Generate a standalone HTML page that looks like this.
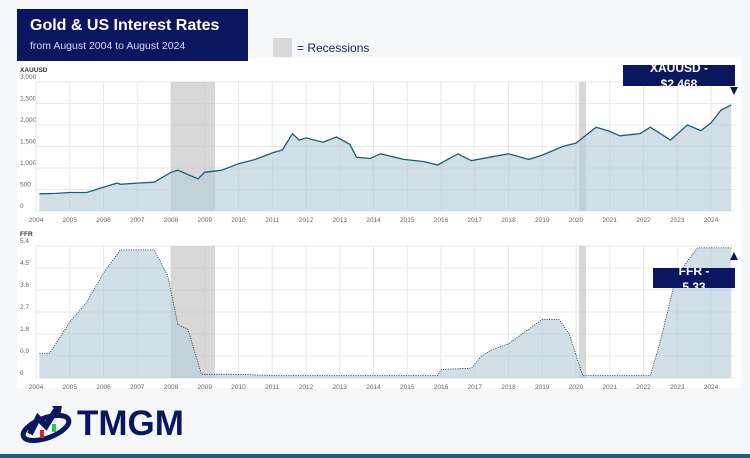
<!DOCTYPE html><html><head><style>
body{margin:0;width:750px;height:458px;background:#f6f7f8;font-family:"Liberation Sans",sans-serif;overflow:hidden;position:relative}
.panel{position:absolute;left:17px;top:58px;width:724px;height:330px;background:#fff}
.title{position:absolute;left:17px;top:9px;width:231px;height:52px;background:#0b1660;color:#fff}
.title .t{position:absolute;left:13px;top:8px;font-size:16px;font-weight:bold}
.title .s{position:absolute;left:13px;top:31px;font-size:10.5px;color:#d8dcee}
.rec{position:absolute;left:273px;top:38px;width:19px;height:19px;background:#d9d9d9}
.rect{position:absolute;left:297px;top:41px;font-size:12px;color:#1a2050}
.lbl{position:absolute;background:#0b1660;color:#fff;font-weight:bold;font-size:12px;text-align:center;line-height:16px;overflow:hidden}
.lbl div{margin-top:-5px}
.logo{position:absolute;left:77px;top:404px;font-size:35px;font-weight:900;color:#0b1660}
.bar{position:absolute;left:0;top:454px;width:750px;height:4px;background:#1b5f80}
</style></head><body>
<div class="panel"></div>
<svg id="s" width="750" height="458" style="position:absolute;left:0;top:0"></svg>
<div class="title"><div class="t">Gold &amp; US Interest Rates</div><div class="s">from August 2004 to August 2024</div></div>
<div class="rec"></div><div class="rect">= Recessions</div>
<div class="lbl" style="left:623px;top:65px;width:112px;height:21px"><div>XAUUSD -<br>$2,468</div></div>
<div class="lbl" style="left:653px;top:268px;width:82px;height:20px"><div>FFR -<br>5.33</div></div>
<div class="logo">TMGM</div>
<svg width="60" height="40" style="position:absolute;left:18px;top:404px"><ellipse cx="28" cy="24" rx="24" ry="10" fill="none" stroke="#0b1660" stroke-width="5" transform="rotate(-20 28 24)"/><path d="M12 30 L20 14 L28 22 L38 6" fill="none" stroke="#0b1660" stroke-width="6"/><path d="M34 2 L44 2 L42 12Z" fill="#0b1660"/><rect x="22" y="26" width="4" height="8" fill="#d22"/><rect x="34" y="20" width="4" height="8" fill="#2c4"/></svg>
<div class="bar"></div>
<script>
const s=document.getElementById('s');let h='';
const X=y=>36+(y-2004)*33.75;
function grid(top,bot,n,labels,ylab){
 for(let i=0;i<=n;i++){let y=top+(bot-top)*i/n;h+=`<line x1="36" x2="735" y1="${y}" y2="${y}" stroke="#e6e8ea"/>`;
 h+=`<text x="20" y="${y-3}" font-size="6.5" fill="#666">${labels[i]}</text>`;}
 for(let yr=2004;yr<=2024;yr++){let x=X(yr);h+=`<line x1="${x}" x2="${x}" y1="${top}" y2="${bot}" stroke="#e6e8ea"/>`;
 h+=`<text x="${x}" y="${bot+11}" font-size="6.5" fill="#666" text-anchor="middle">${yr}</text>`;}
 h+=`<text x="20" y="${top-10}" font-size="6.5" fill="#333" font-weight="bold">${ylab}</text>`;
 h+=`<rect x="171" y="${top}" width="44" height="${bot-top}" fill="#c8c8c8" opacity=".7"/><rect x="579" y="${top}" width="7" height="${bot-top}" fill="#c8c8c8" opacity=".7"/>`;
}
grid(82,211,6,['3,000','2,500','2,000','1,500','1,000','500','0'],'XAUUSD');
grid(246,378,6,['5.4','4.5','3.6','2.7','1.8','0.9','0'],'FFR');
const g=[[2004.1,400],[2004.6,410],[2005,430],[2005.5,430],[2006,550],[2006.4,650],[2006.5,620],[2007,650],[2007.5,670],[2008,900],[2008.2,950],[2008.8,750],[2009,900],[2009.5,950],[2010,1100],[2010.5,1200],[2011,1350],[2011.3,1420],[2011.6,1800],[2011.8,1650],[2012,1700],[2012.5,1600],[2012.9,1720],[2013.3,1550],[2013.5,1250],[2013.9,1220],[2014.2,1330],[2014.9,1200],[2015.5,1150],[2015.9,1070],[2016.5,1330],[2016.9,1170],[2017.5,1260],[2018,1330],[2018.6,1200],[2019,1300],[2019.6,1500],[2020,1580],[2020.6,1950],[2021,1850],[2021.3,1750],[2021.9,1800],[2022.2,1950],[2022.8,1650],[2023.3,2000],[2023.7,1870],[2024,2050],[2024.3,2350],[2024.6,2468]];
let p=g.map(d=>`${X(d[0]).toFixed(1)},${(211-d[1]*0.043).toFixed(1)}`).join(' ');
h+=`<polygon points="${X(2004.1)},211 ${p} ${X(2024.6)},211" fill="#b9ced8" opacity=".65"/><polyline points="${p}" fill="none" stroke="#1d5f78" stroke-width="1.3"/>`;
const f=[[2004.1,1],[2004.4,1],[2005,2.3],[2005.5,3.1],[2006,4.3],[2006.5,5.25],[2007.5,5.25],[2007.9,4.2],[2008.2,2.2],[2008.5,2],[2008.9,0.15],[2010,0.15],[2011,0.1],[2013,0.1],[2015.9,0.1],[2016,0.35],[2016.9,0.4],[2017.2,0.9],[2017.5,1.15],[2018,1.4],[2018.5,1.9],[2019,2.4],[2019.5,2.4],[2019.8,1.8],[2020.2,0.1],[2022.2,0.1],[2022.5,1.5],[2022.9,3.8],[2023.2,4.6],[2023.6,5.33],[2024.6,5.33]];
p=f.map(d=>`${X(d[0]).toFixed(1)},${(378-d[1]*24.4).toFixed(1)}`).join(' ');
h+=`<polygon points="${X(2004.1)},378 ${p} ${X(2024.6)},378" fill="#b9ced8" opacity=".65"/><polyline points="${p}" fill="none" stroke="#334" stroke-width="0.8" stroke-dasharray="1.2 1.2"/>`;
h+=`<path d="M730 87 L738 87 L734 95Z" fill="#0b1660"/><path d="M730 260 L738 260 L734 252Z" fill="#0b1660"/>`;
s.innerHTML=h;
</script>
</body></html>
